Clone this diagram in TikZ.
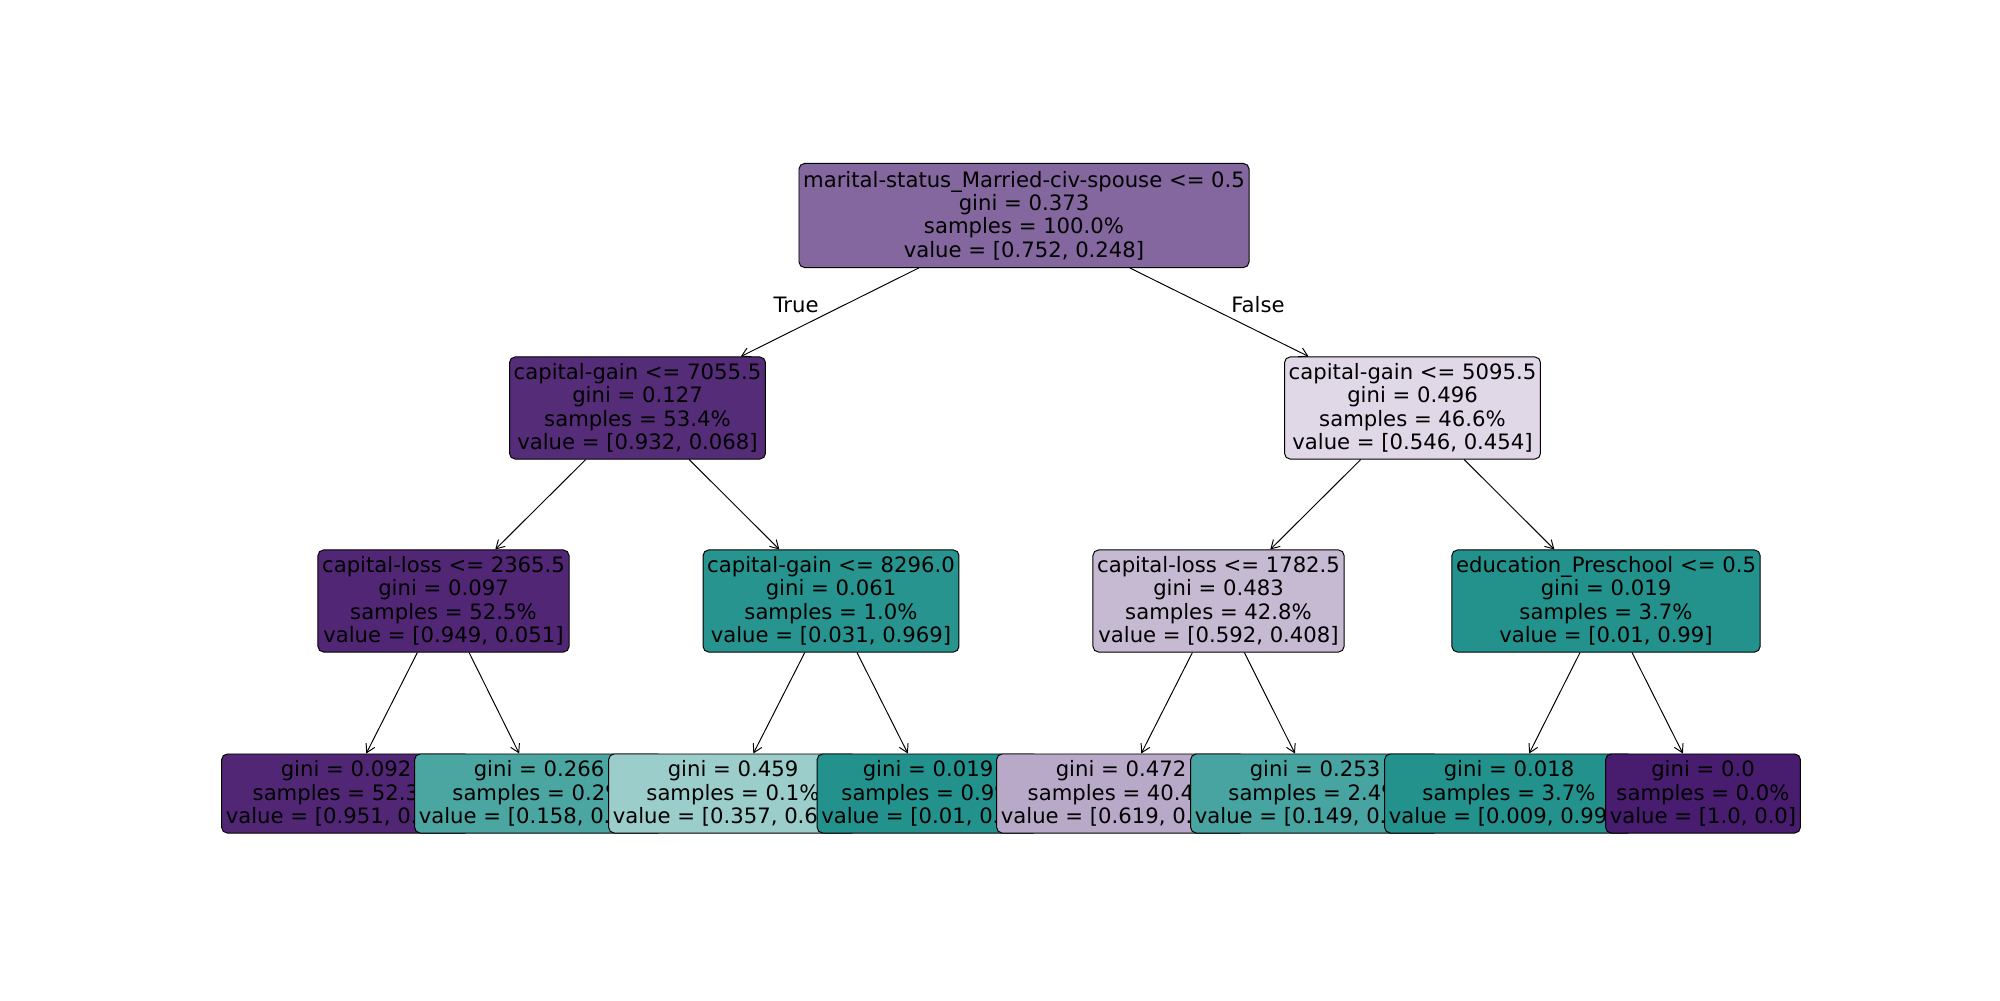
\documentclass[tikz,border=0pt]{standalone}
\usepackage{fontspec}
\setmainfont{DejaVu Sans}
\usepackage{xcolor}
\usetikzlibrary{arrows.meta}
\definecolor{classzero}{RGB}{72,28,110}
\definecolor{classone}{RGB}{33,145,140}

\begin{document}
\begin{tikzpicture}[
  x=0.01in, y=-0.01in,
  font=\fontsize{15.3}{16.9}\selectfont,
  treenode/.style={draw, rounded corners=4pt, align=center, line width=0.7pt,
    inner xsep=0.3em, inner ysep=0pt, minimum height=1.02in},
  leafnode/.style={treenode, minimum height=0.79in},
  arrow/.style={-{Straight Barb[length=6pt,width=7pt]}, line width=0.7pt}
]
  \useasboundingbox (0,0) rectangle (2000,1000);

  % root and first split
  \node[treenode, fill=classzero!67!white, minimum height=1.04in] (root) at (1024,215.5)
    {marital-status\_Married-civ-spouse <= 0.5\\gini = 0.373\\samples = 100.0\%\\value = [0.752, 0.248]};
  \node[treenode, fill=classzero!93!white] (l) at (637.5,408)
    {capital-gain <= 7055.5\\gini = 0.127\\samples = 53.4\%\\value = [0.932, 0.068]};
  \node[treenode, fill=classzero!17!white] (r) at (1412.5,408)
    {capital-gain <= 5095.5\\gini = 0.496\\samples = 46.6\%\\value = [0.546, 0.454]};

  % second level
  \node[treenode, fill=classzero!95!white] (ll) at (443.5,601)
    {capital-loss <= 2365.5\\gini = 0.097\\samples = 52.5\%\\value = [0.949, 0.051]};
  \node[treenode, fill=classone!97!white] (lr) at (831,601)
    {capital-gain <= 8296.0\\gini = 0.061\\samples = 1.0\%\\value = [0.031, 0.969]};
  \node[treenode, fill=classzero!31!white] (rl) at (1218.5,601)
    {capital-loss <= 1782.5\\gini = 0.483\\samples = 42.8\%\\value = [0.592, 0.408]};
  \node[treenode, fill=classone!99!white] (rr) at (1606,601)
    {education\_Preschool <= 0.5\\gini = 0.019\\samples = 3.7\%\\value = [0.01, 0.99]};

  % leaves, left to right (each one lies over the one before)
  \node[leafnode, fill=classzero!95!white] (lll) at (346,793.5)
    {gini = 0.092\\samples = 52.3\%\\value = [0.951, 0.049]};
  \node[leafnode, fill=classone!81!white] (llr) at (539,793.5)
    {gini = 0.266\\samples = 0.2\%\\value = [0.158, 0.842]};
  \node[leafnode, fill=classone!45!white] (lrl) at (733,793.5)
    {gini = 0.459\\samples = 0.1\%\\value = [0.357, 0.643]};
  \node[leafnode, fill=classone!99!white] (lrr) at (928,793.5)
    {gini = 0.019\\samples = 0.9\%\\value = [0.01, 0.99]};
  \node[leafnode, fill=classzero!38!white] (rll) at (1121,793.5)
    {gini = 0.472\\samples = 40.4\%\\value = [0.619, 0.381]};
  \node[leafnode, fill=classone!83!white] (rlr) at (1315,793.5)
    {gini = 0.253\\samples = 2.4\%\\value = [0.149, 0.851]};
  \node[leafnode, fill=classone!99!white] (rrl) at (1509,793.5)
    {gini = 0.018\\samples = 3.7\%\\value = [0.009, 0.991]};
  \node[leafnode, fill=classzero] (rrr) at (1703,793.5)
    {gini = 0.0\\samples = 0.0\%\\value = [1.0, 0.0]};

  \node (true) at (796,305) {True};
  \node (false) at (1258,305) {False};

  \draw[arrow] (root) -- (l);
  \draw[arrow] (root) -- (r);
  \draw[arrow] (l) -- (ll);
  \draw[arrow] (l) -- (lr);
  \draw[arrow] (r) -- (rl);
  \draw[arrow] (r) -- (rr);
  \draw[arrow] (ll) -- (lll);
  \draw[arrow] (ll) -- (llr);
  \draw[arrow] (lr) -- (lrl);
  \draw[arrow] (lr) -- (lrr);
  \draw[arrow] (rl) -- (rll);
  \draw[arrow] (rl) -- (rlr);
  \draw[arrow] (rr) -- (rrl);
  \draw[arrow] (rr) -- (rrr);
\end{tikzpicture}
\end{document}
